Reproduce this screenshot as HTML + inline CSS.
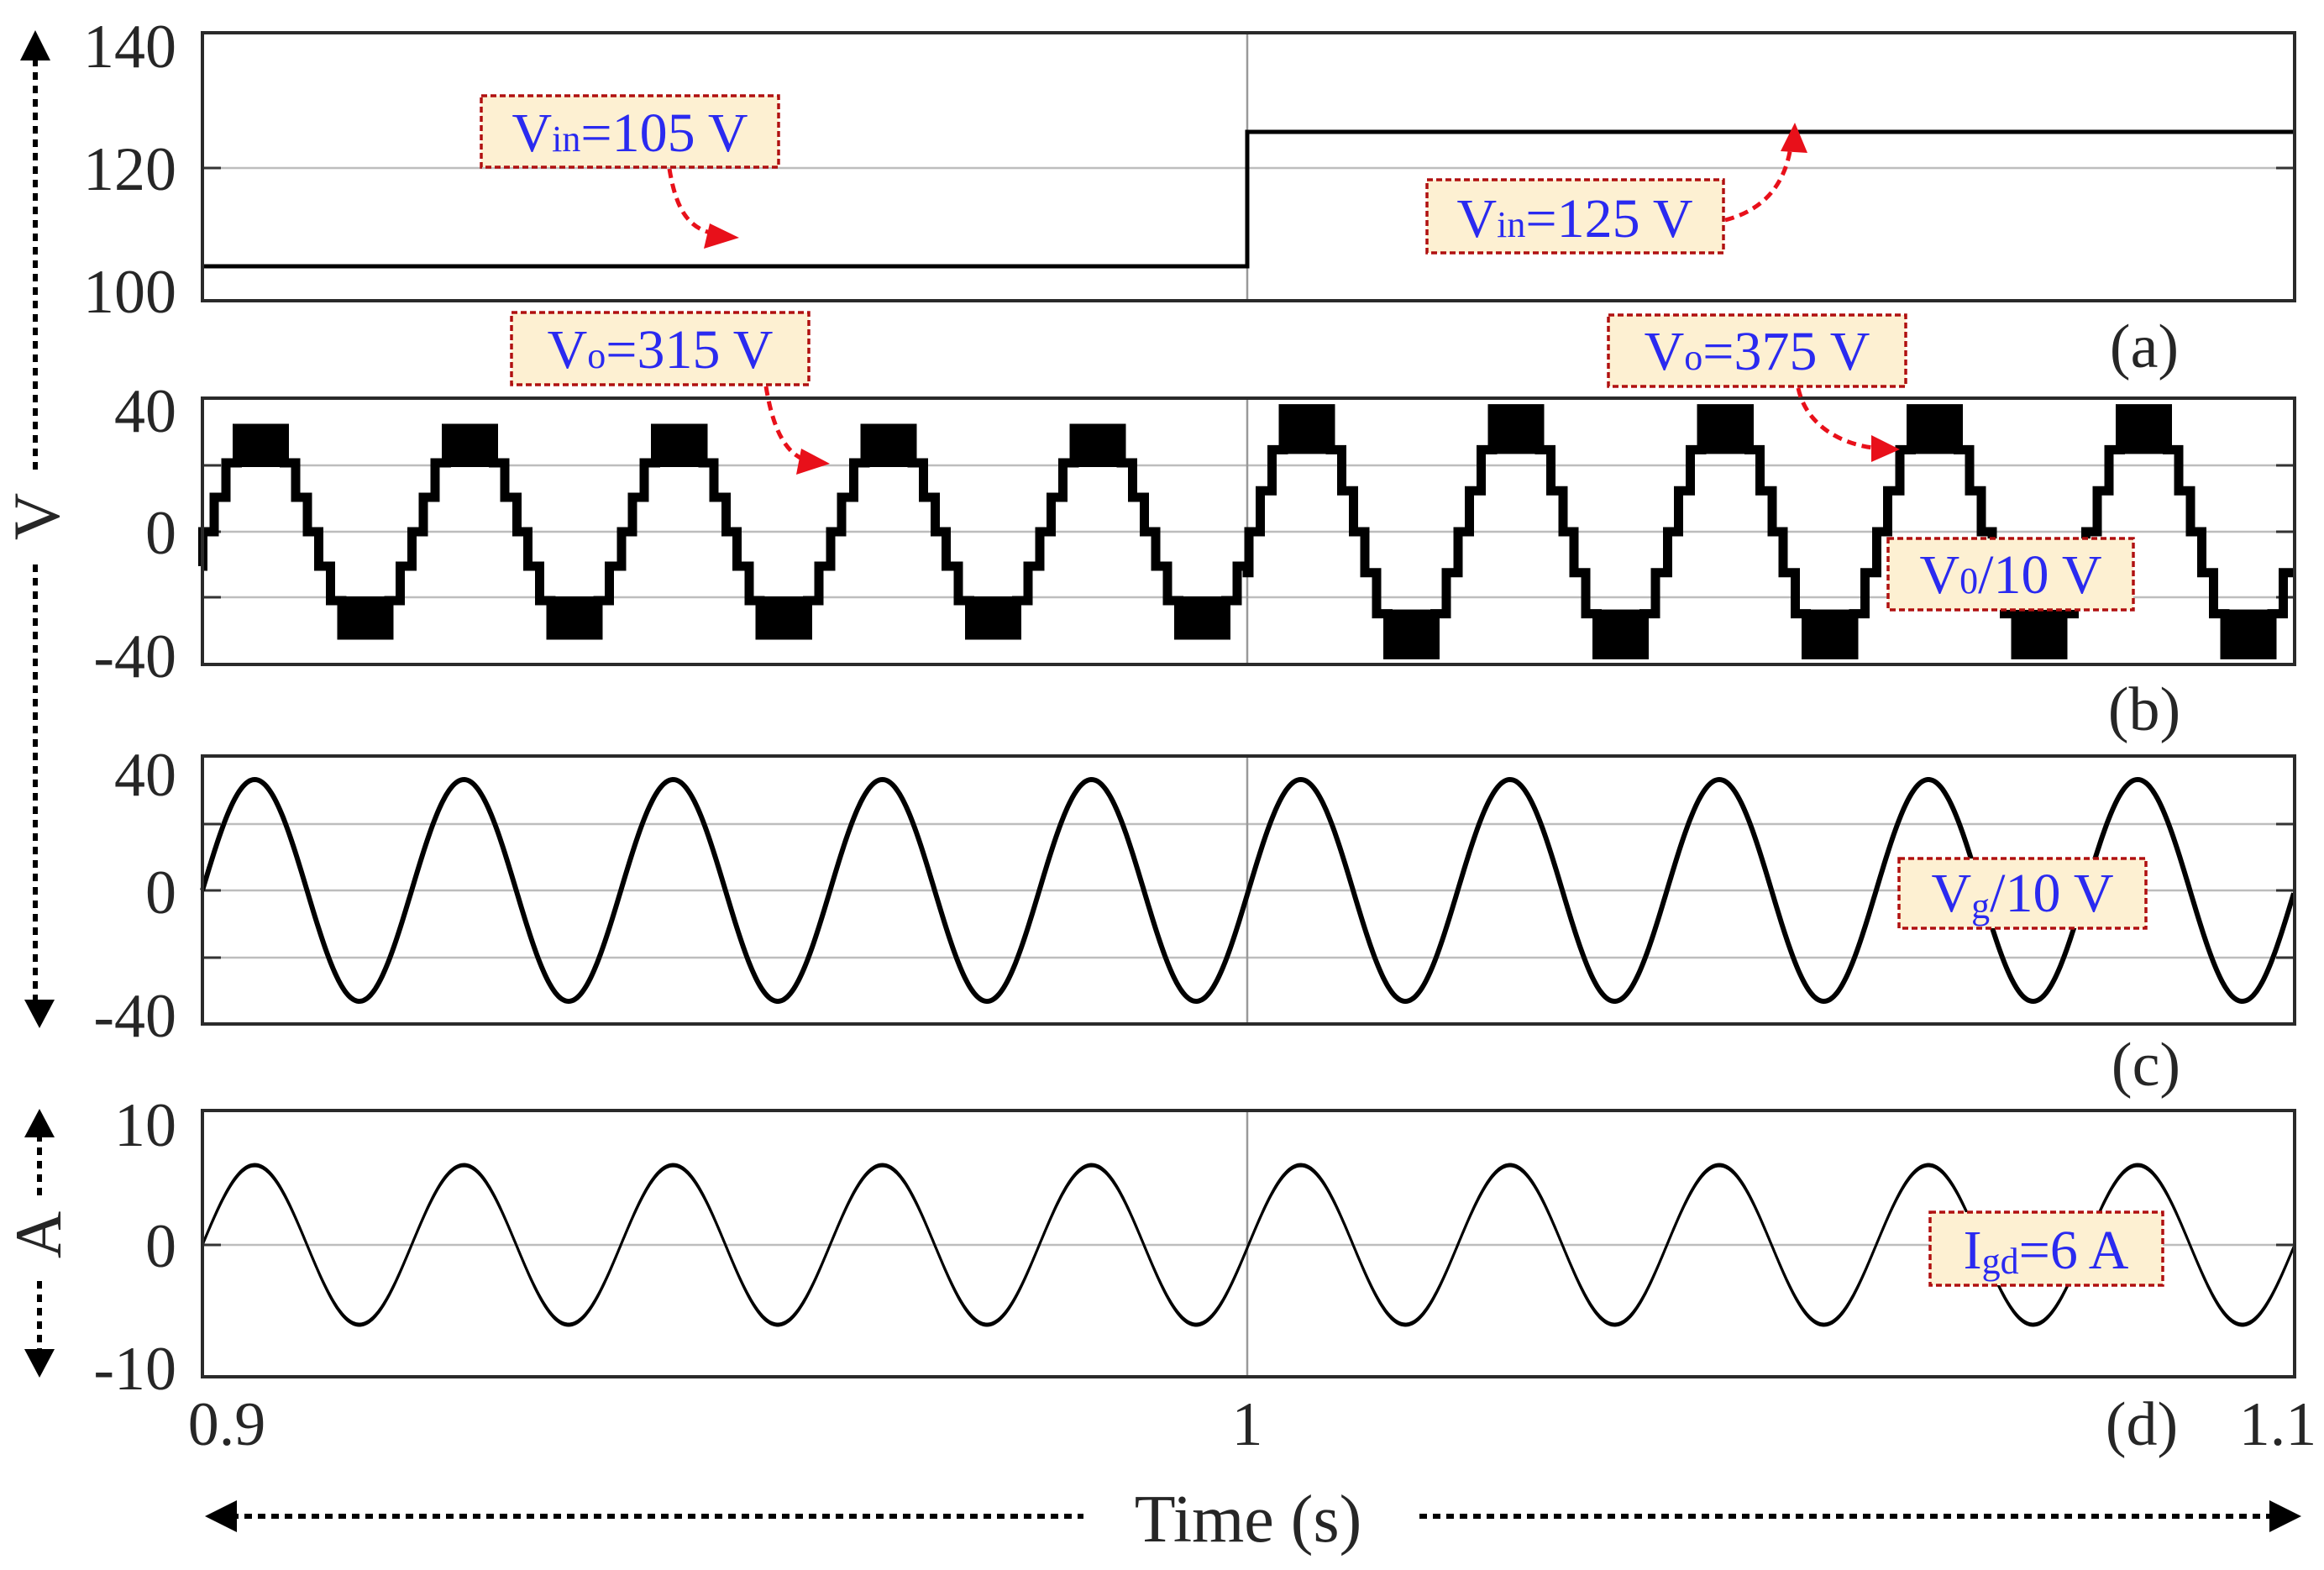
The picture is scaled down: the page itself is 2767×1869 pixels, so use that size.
<!DOCTYPE html>
<html><head><meta charset="utf-8">
<style>
html,body{margin:0;padding:0;background:#fff;}
svg{display:block;}
text{font-family:"Liberation Serif",serif;}
.t{font-size:74px;fill:#262626;}
.b{font-size:66px;fill:#2a2af0;}
.s{font-size:44px;}
</style></head>
<body>
<svg id="s" width="2767" height="1869" viewBox="0 0 2767 1869" xmlns="http://www.w3.org/2000/svg">
<!-- grids -->
<g stroke="#bdbdbd" stroke-width="2.5">
<line x1="241" y1="200" x2="2732" y2="200"/>
<line x1="241" y1="554" x2="2732" y2="554"/>
<line x1="241" y1="633" x2="2732" y2="633"/>
<line x1="241" y1="711" x2="2732" y2="711"/>
<line x1="241" y1="981" x2="2732" y2="981"/>
<line x1="241" y1="1060" x2="2732" y2="1060"/>
<line x1="241" y1="1140" x2="2732" y2="1140"/>
<line x1="241" y1="1482" x2="2732" y2="1482"/>
</g>
<g stroke="#999" stroke-width="2.5">
<line x1="1485" y1="39" x2="1485" y2="358"/>
<line x1="1485" y1="474" x2="1485" y2="791"/>
<line x1="1485" y1="900" x2="1485" y2="1219"/>
<line x1="1485" y1="1322" x2="1485" y2="1639"/>
</g>
<g stroke="#333" stroke-width="3">
<path d="M241 200h22M2732 200h-22M241 554h22M2732 554h-22M241 633h22M2732 633h-22M241 711h22M2732 711h-22M241 981h22M2732 981h-22M241 1060h22M2732 1060h-22M241 1140h22M2732 1140h-22M241 1482h22M2732 1482h-22"/>
</g>
<!-- waveforms -->
<path d="M241 317H1485V157H2732" fill="none" stroke="#000" stroke-width="5"/>
<g id="wb"></g>
<path id="wc" fill="none" stroke="#000" stroke-width="6"/>
<path id="wd1" fill="none" stroke="#000" stroke-width="3"/>
<path id="wd2" fill="none" stroke="#000" stroke-width="3"/>
<!-- frames -->
<g fill="none" stroke="#2a2a2a" stroke-width="4">
<rect x="241" y="39" width="2491" height="319"/>
<rect x="241" y="474" width="2491" height="317"/>
<rect x="241" y="900" width="2491" height="319"/>
<rect x="241" y="1322" width="2491" height="317"/>
</g>
<!-- tick labels -->
<g class="t" text-anchor="end">
<text x="210" y="80">140</text>
<text x="210" y="226">120</text>
<text x="210" y="372">100</text>
<text x="210" y="514">40</text>
<text x="210" y="659">0</text>
<text x="210" y="806">-40</text>
<text x="210" y="947">40</text>
<text x="210" y="1087">0</text>
<text x="210" y="1234">-40</text>
<text x="210" y="1364">10</text>
<text x="210" y="1508">0</text>
<text x="210" y="1654">-10</text>
</g>
<g class="t" text-anchor="middle">
<text x="270" y="1720">0.9</text>
<text x="1485" y="1720">1</text>
<text x="2712" y="1720">1.1</text>
<text x="2550" y="1720">(d)</text>
<text x="2553" y="437">(a)</text>
<text x="2553" y="869">(b)</text>
<text x="2555" y="1292">(c)</text>
<text x="1486" y="1835" style="font-size:80px">Time (s)</text>
</g>
<!-- axes arrows -->
<g stroke="#000" stroke-width="6" stroke-dasharray="9 7" fill="none">
<line x1="42" y1="70" x2="42" y2="560"/>
<line x1="42" y1="672" x2="42" y2="1195"/>
<line x1="47" y1="1350" x2="47" y2="1425"/>
<line x1="47" y1="1525" x2="47" y2="1610"/>
<line x1="275" y1="1805" x2="1290" y2="1805"/>
<line x1="1690" y1="1805" x2="2710" y2="1805"/>
</g>
<g fill="#000">
<polygon points="42,36 24,72 60,72"/>
<polygon points="47,1224 29,1190 65,1190"/>
<polygon points="47,1320 29,1354 65,1354"/>
<polygon points="47,1640 29,1606 65,1606"/>
<polygon points="244,1805 282,1786 282,1824"/>
<polygon points="2740,1805 2702,1786 2702,1824"/>
</g>
<text class="t" transform="translate(70,615) rotate(-90)" text-anchor="middle" style="font-size:78px">V</text>
<text class="t" transform="translate(72,1470) rotate(-90)" text-anchor="middle" style="font-size:78px">A</text>
<!-- annotation boxes -->
<g fill="#fdf0d2" stroke="#b01010" stroke-width="3.5" stroke-dasharray="7 4">
<rect x="573" y="114" width="354" height="85"/>
<rect x="609" y="372" width="354" height="86"/>
<rect x="1699" y="214" width="353" height="87"/>
<rect x="1915" y="375" width="354" height="85"/>
<rect x="2248" y="641" width="292" height="85"/>
<rect x="2261" y="1022" width="294" height="83"/>
<rect x="2298" y="1443" width="277" height="87"/>
</g>
<g class="b" text-anchor="middle">
<text x="750" y="180">V<tspan class="s">in</tspan>=105 V</text>
<text x="786" y="438">V<tspan class="s">o</tspan>=315 V</text>
<text x="1875" y="282">V<tspan class="s">in</tspan>=125 V</text>
<text x="2092" y="440">V<tspan class="s">o</tspan>=375 V</text>
<text x="2394" y="706">V<tspan class="s">0</tspan>/10 V</text>
<text x="2408" y="1085">V<tspan class="s" dy="8">g</tspan><tspan dy="-8">/10 V</tspan></text>
<text x="2436" y="1510">I<tspan class="s" dy="6">gd</tspan><tspan dy="-6">=6 A</tspan></text>
</g>
<!-- red arrows -->
<g fill="none" stroke="#e8101a" stroke-width="5" stroke-dasharray="11 7">
<path d="M797 201 C805 250 820 272 850 278"/>
<path d="M912 460 C920 510 935 540 960 548"/>
<path d="M2054 262 C2100 250 2125 220 2132 175"/>
<path d="M2141 462 C2150 505 2190 528 2230 533"/>
</g>
<g fill="#e8101a">
<polygon points="880,283 845,266 838,296"/>
<polygon points="988,552 954,534 948,565"/>
<polygon points="2137,146 2120,180 2152,182"/>
<polygon points="2262,535 2228,518 2228,550"/>
</g>
</svg>
<script>
(function(){
var L=241,R=2732,P=(R-L)/10,ns="http://www.w3.org/2000/svg";
function sq(x){var t=Math.sin(2*Math.PI*(x-248)/P),a=Math.abs(t),k=a<1/6?0:a<0.5?1:a<0.76?2:3;return t<0?-k:k;}
var d="",prev=null,g=document.getElementById("wb"),blocks=[],bs=null;
for(var x=L;x<=R;x+=0.5){
 var s=x<1485?41:48.8,k=sq(x),y=633-k*s;
 if(prev===null){d="M"+L+" "+y;}
 else if(k!==prev.k||s!==prev.s){d+="H"+x+"V"+y;}
 if(Math.abs(k)===3&&bs===null)bs={x:x,k:k,s:s};
 if(Math.abs(k)!==3&&bs!==null){blocks.push([bs.x,x,bs.k,bs.s]);bs=null;}
 prev={k:k,s:s,y:y};
}
d+="H"+R;
if(bs)blocks.push([bs.x,R,bs.k,bs.s]);
blocks.forEach(function(b){var r=document.createElementNS(ns,"rect");var sg=b[2]>0?1:-1;
 var y3=633-sg*3*b[3],y2=633-sg*2*b[3];r.setAttribute("x",b[0]-4);r.setAttribute("width",b[1]-b[0]+8);
 r.setAttribute("y",Math.min(y2,y3)-5);r.setAttribute("height",Math.abs(y3-y2)+10);g.appendChild(r);});
var p=document.createElementNS(ns,"path");p.setAttribute("d",d);p.setAttribute("fill","none");p.setAttribute("stroke","#000");p.setAttribute("stroke-width","11");p.setAttribute("stroke-linejoin","miter");g.appendChild(p);
function sine(c,A){var s="";for(var x=L;x<=R;x+=2){var y=c-A*Math.sin(2*Math.PI*(x-L)/P);s+=(s?"L":"M")+x+" "+y.toFixed(1);}return s;}
document.getElementById("wc").setAttribute("d",sine(1060,132));
document.getElementById("wd1").setAttribute("d",sine(1482,96));
document.getElementById("wd2").setAttribute("d",sine(1482,94));
})();
</script>
</body></html>
